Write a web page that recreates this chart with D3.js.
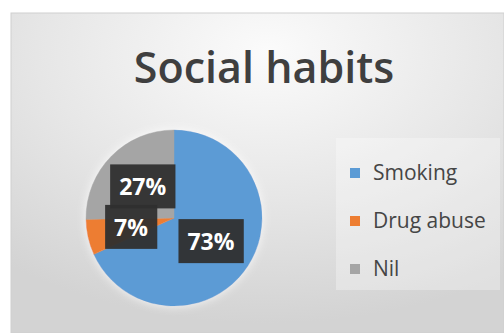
<!DOCTYPE html>
<html>
<head>
<meta charset="utf-8">
<script src="https://cdn.jsdelivr.net/npm/d3@7"></script>
<style>
  html, body { margin: 0; padding: 0; background: #fff; }
  svg { display: block; }
</style>
</head>
<body>
<svg id="chart" width="504" height="333"></svg>
<script>
const categories = ['Smoking', 'Drug abuse', 'Nil']
const values = [73, 7, 27]
const colors = ['#5b9bd5', '#ed7d31', '#a5a5a5']

const width = 504
const height = 333
const svg = d3.select('#chart')
const defs = svg.append('defs')

// chart area background: soft radial grey
const bg = defs.append('radialGradient')
  .attr('id', 'bgGrad')
  .attr('cx', '52%').attr('cy', '12%').attr('r', '85%')
bg.append('stop').attr('offset', '0%').attr('stop-color', '#fbfbfb')
bg.append('stop').attr('offset', '55%').attr('stop-color', '#e6e6e6')
bg.append('stop').attr('offset', '100%').attr('stop-color', '#d3d3d3')

const shadow = defs.append('filter').attr('id', 'pieShadow')
  .attr('x', '-30%').attr('y', '-30%').attr('width', '160%').attr('height', '160%')
shadow.append('feGaussianBlur').attr('in', 'SourceAlpha').attr('stdDeviation', 5).attr('result', 'blur')
shadow.append('feFlood').attr('flood-color', '#ffffff').attr('flood-opacity', 0.8)
shadow.append('feComposite').attr('in2', 'blur').attr('operator', 'in').attr('result', 'glow')
const merge = shadow.append('feMerge')
merge.append('feMergeNode').attr('in', 'glow')
merge.append('feMergeNode').attr('in', 'SourceGraphic')

svg.append('rect')
  .attr('x', 11).attr('y', 13)
  .attr('width', width - 11).attr('height', height - 13)
  .attr('fill', 'url(#bgGrad)')
  .attr('stroke', '#cfcfcf')
  .attr('stroke-width', 1)

svg.append('text')
  .attr('x', 264)
  .attr('y', 83)
  .attr('text-anchor', 'middle')
  .attr('font-family', '"Open Sans", sans-serif')
  .attr('font-weight', 600)
  .attr('font-size', 43)
  .attr('fill', '#3f3f3f')
  .text('Social habits')

// pie
const cx = 174
const cy = 218
const radius = 88

const pie = d3.pie().sort(null).value((d) => d)
const arc = d3.arc().innerRadius(0).outerRadius(radius)
const arcs = pie(values)

const g = svg.append('g').attr('transform', `translate(${cx},${cy})`)

g.append('g')
  .attr('filter', 'url(#pieShadow)')
  .selectAll('path')
  .data(arcs)
  .join('path')
  .attr('d', arc)
  .attr('fill', (d, i) => colors[i])
  .attr('stroke', (d, i) => colors[i])
  .attr('stroke-width', 0.5)

// data labels in dark boxes
const labels = g.append('g')
  .selectAll('g')
  .data(arcs)
  .join('g')
  .attr('transform', (d) => {
    const [x, y] = arc.centroid(d)
    return `translate(${x},${y})`
  })

labels.append('text')
  .attr('text-anchor', 'middle')
  .attr('dy', '0.36em')
  .attr('font-family', '"Open Sans", sans-serif')
  .attr('font-weight', 'bold')
  .attr('font-size', 23)
  .attr('fill', '#ffffff')
  .text((d) => d.data + '%')

labels.each(function () {
  const grp = d3.select(this)
  const b = grp.select('text').node().getBBox()
  grp.insert('rect', 'text')
    .attr('x', b.x - 9)
    .attr('y', b.y - 6)
    .attr('width', b.width + 18)
    .attr('height', b.height + 12)
    .attr('fill', '#2f2f2f')
    .attr('opacity', 0.95)
})

// legend
svg.append('rect')
  .attr('x', 336).attr('y', 138)
  .attr('width', 164).attr('height', 152)
  .attr('fill', '#ffffff')
  .attr('opacity', 0.3)

const legend = svg.append('g')
  .selectAll('g')
  .data(categories)
  .join('g')
  .attr('transform', (d, i) => `translate(350,${173 + i * 48})`)

legend.append('rect')
  .attr('x', 0).attr('y', -5)
  .attr('width', 10).attr('height', 10)
  .attr('fill', (d, i) => colors[i])

legend.append('text')
  .attr('x', 23)
  .attr('dy', '0.35em')
  .attr('font-family', '"Open Sans", sans-serif')
  .attr('font-size', 21)
  .attr('fill', '#454545')
  .text((d) => d)
</script>
</body>
</html>
